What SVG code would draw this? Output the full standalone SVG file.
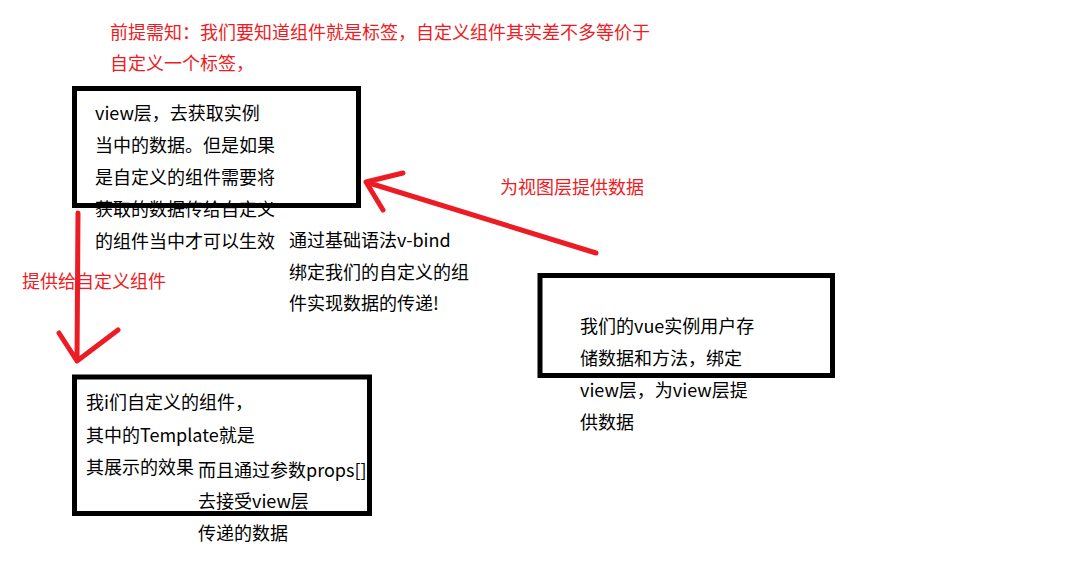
<svg xmlns="http://www.w3.org/2000/svg" width="1080" height="564" viewBox="0 0 1080 564">
<style>
.t{font-family:"Noto Sans CJK SC","Noto Sans",sans-serif;font-size:18px;fill:#000}
.r{fill:#ED1C24}
.box{fill:none;stroke:#000;stroke-width:5}
.arr{fill:none;stroke:#ED1C24;stroke-width:5;stroke-linecap:round;stroke-linejoin:round}
</style>
<rect width="1080" height="564" fill="#fff"/>
<g id="note">
<text class="t r" x="110" y="39">前提需知：我们要知道组件就是标签，自定义组件其实差不多等价于</text>
<text class="t r" x="110" y="70">自定义一个标签，</text>
</g>
<g id="view-layer">
<rect class="box" x="74.5" y="88.5" width="284" height="117"/>
<text class="t" x="95" y="120">view层，去获取实例</text>
<text class="t" x="95" y="152">当中的数据。但是如果</text>
<text class="t" x="95" y="184">是自定义的组件需要将</text>
<text class="t" x="95" y="216">获取的数据传给自定义</text>
<text class="t" x="95" y="248">的组件当中才可以生效</text>
</g>
<g id="vbind-note">
<text class="t" x="289" y="247">通过基础语法v-bind</text>
<text class="t" x="289" y="279">绑定我们的自定义的组</text>
<text class="t" x="289" y="310">件实现数据的传递!</text>
</g>
<g id="vue-instance">
<rect class="box" x="540" y="275.5" width="292.5" height="100"/>
<text class="t" x="580" y="333">我们的vue实例用户存</text>
<text class="t" x="580" y="365">储数据和方法，绑定</text>
<text class="t" x="580" y="397">view层，为view层提</text>
<text class="t" x="580" y="429">供数据</text>
</g>
<g id="custom-component">
<rect class="box" x="74.5" y="377" width="295" height="136.5"/>
<text class="t" x="86" y="409">我i们自定义的组件，</text>
<text class="t" x="86" y="442">其中的Template就是</text>
<text class="t" x="86" y="474">其展示的效果</text>
</g>
<g id="props-note">
<text class="t" x="198" y="477">而且通过参数props[]</text>
<text class="t" x="198" y="508">去接受view层</text>
<text class="t" x="198" y="540">传递的数据</text>
</g>
<g id="connectors">
<path class="arr" d="M78 213 L77 361 M59 333 L77 361 L118 330"/>
<path class="arr" d="M596 253 L366 182 M403 173 L366 182 L383 210"/>
<text class="t r" x="22" y="288">提供给自定义组件</text>
<text class="t r" x="500" y="194">为视图层提供数据</text>
</g>
</svg>
